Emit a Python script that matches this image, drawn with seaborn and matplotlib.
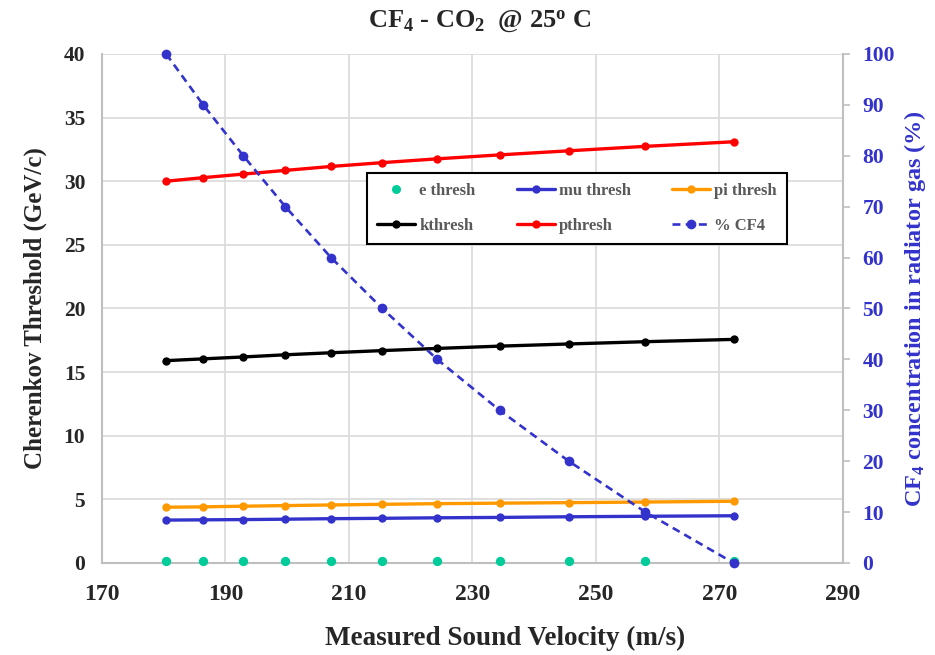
import matplotlib
matplotlib.use("Agg")
import matplotlib.pyplot as plt
from matplotlib.lines import Line2D
import seaborn as sns
import pandas as pd

# Measured sound velocity in the CF4/CO2 mixture (m/s)
velocity = [180.4, 186.4, 192.9, 199.7, 207.1, 215.4, 224.3, 234.4, 245.6, 258.0, 272.3]
# CF4 fraction of the radiator gas (%)
cf4_percent = [100, 90, 80, 70, 60, 50, 40, 30, 20, 10, 0]
# Cherenkov momentum thresholds (GeV/c)
e_thresh = [0.15, 0.15, 0.15, 0.15, 0.15, 0.15, 0.15, 0.15, 0.15, 0.15, 0.15]
mu_thresh = [3.37, 3.39, 3.41, 3.44, 3.48, 3.51, 3.55, 3.58, 3.63, 3.67, 3.71]
pi_thresh = [4.38, 4.41, 4.46, 4.51, 4.56, 4.61, 4.66, 4.70, 4.74, 4.79, 4.85]
k_thresh = [15.90, 16.04, 16.19, 16.36, 16.52, 16.69, 16.86, 17.04, 17.21, 17.39, 17.57]
p_thresh = [30.00, 30.28, 30.56, 30.85, 31.16, 31.46, 31.76, 32.07, 32.39, 32.74, 33.10]

series_names = ["e thresh", "mu thresh", "pi thresh", "kthresh", "pthresh"]
series_values = [e_thresh, mu_thresh, pi_thresh, k_thresh, p_thresh]
series_colors = ["#00CC99", "#3333CC", "#FF9900", "#000000", "#FF0000"]
cf4_color = "#3333CC"

sns.set_theme(style="white")
plt.rcParams["font.family"] = ["Liberation Serif", "DejaVu Serif"]
plt.rcParams["font.weight"] = "bold"
plt.rcParams["mathtext.fontset"] = "custom"
plt.rcParams["mathtext.rm"] = "Liberation Serif:bold"
plt.rcParams["mathtext.it"] = "Liberation Serif:bold"
plt.rcParams["mathtext.bf"] = "Liberation Serif:bold"

fig = plt.figure(figsize=(9.35, 6.55), dpi=100)
ax = fig.add_axes([0.109, 0.1405, 0.7926, 0.7771])
ax2 = ax.twinx()

grid_col = "#D9D9D9"
spine_col = "#BFBFBF"

handles = {}
for name, vals, col in zip(series_names, series_values, series_colors):
    df = pd.DataFrame({"v": velocity, "t": vals})
    if name == "e thresh":
        sns.scatterplot(data=df, x="v", y="t", ax=ax, color=col, s=45,
                        edgecolor=col, linewidth=0, zorder=3, clip_on=False)
        handles[name] = Line2D([], [], color=col, marker="o", linestyle="none",
                               markersize=6.5, markeredgewidth=0)
    else:
        sns.lineplot(data=df, x="v", y="t", ax=ax, color=col, linewidth=2.4,
                     marker="o", markersize=6, markeredgewidth=0, zorder=3,
                     clip_on=False)
        handles[name] = Line2D([], [], color=col, linewidth=2.4, marker="o",
                               markersize=6, markeredgewidth=0)

df_cf4 = pd.DataFrame({"v": velocity, "c": cf4_percent})
sns.lineplot(data=df_cf4, x="v", y="c", ax=ax2, color=cf4_color, linewidth=1.9,
             linestyle=(0, (3, 2)), marker="o", markersize=7, markeredgewidth=0,
             zorder=4, clip_on=False)
handles["% CF4"] = Line2D([], [], color=cf4_color, linewidth=1.9,
                          linestyle=(0, (3, 2)), marker="o", markersize=7,
                          markeredgewidth=0)

# Left axis
ax.set_xlim(170, 290)
ax.set_ylim(0, 40)
ax.set_xticks(range(170, 291, 20))
ax.set_yticks(range(0, 41, 5))
ax.grid(True, color=grid_col, linewidth=1.2)
ax.set_axisbelow(True)
for s in ["top", "right"]:
    ax.spines[s].set_visible(False)
for s in ["left", "bottom"]:
    ax.spines[s].set_color(spine_col)
    ax.spines[s].set_linewidth(1.5)
ax.tick_params(axis="x", length=0, pad=15, labelsize=17)
ax.tick_params(axis="y", length=0, pad=12, labelsize=15.5)
for lbl in ax.get_xticklabels() + ax.get_yticklabels():
    lbl.set_fontweight("bold")
ax.set_xlabel("Measured Sound Velocity (m/s)", fontsize=19.5, fontweight="bold",
              labelpad=15)
ax.xaxis.label.set_x(0.544)
ax.set_ylabel("Cherenkov Threshold (GeV/c)", fontsize=18, fontweight="bold",
              labelpad=12)

# Right axis
ax2.set_ylim(0, 100)
ax2.set_yticks(range(0, 101, 10))
ax2.grid(False)
for s in ["top", "left", "bottom"]:
    ax2.spines[s].set_visible(False)
ax2.spines["right"].set_color(spine_col)
ax2.spines["right"].set_linewidth(1.5)
ax2.tick_params(axis="y", length=5, width=1.2, color=spine_col, pad=9,
                labelsize=15.5, labelcolor=cf4_color)
for lbl in ax2.get_yticklabels():
    lbl.set_fontweight("bold")
ax2.set_ylabel("CF$_4$ concentration in radiator gas (%)", fontsize=17.5,
               fontweight="bold", color=cf4_color, labelpad=5)
ax2.set_xlabel("")

fig.text(0.513, 0.967, "CF$_4$ - CO$_2$  @ 25$^{\\rm o}$ C", ha="center",
         va="center", fontsize=19, fontweight="bold")

order = ["e thresh", "kthresh", "mu thresh", "pthresh", "pi thresh", "% CF4"]
leg = ax2.legend([handles[k] for k in order], order, ncol=3, loc="upper left",
                 bbox_to_anchor=(0.3576, 0.766), borderaxespad=0, frameon=True,
                 fancybox=False, edgecolor="black", framealpha=1,
                 handlelength=2.3, columnspacing=2.45, handletextpad=0.25,
                 labelspacing=1.15, borderpad=0.6,
                 prop={"weight": "bold", "size": 12})
leg.get_frame().set_linewidth(1.5)
for t in leg.get_texts():
    t.set_color("#595959")

fig.savefig("out.png", dpi=100)
